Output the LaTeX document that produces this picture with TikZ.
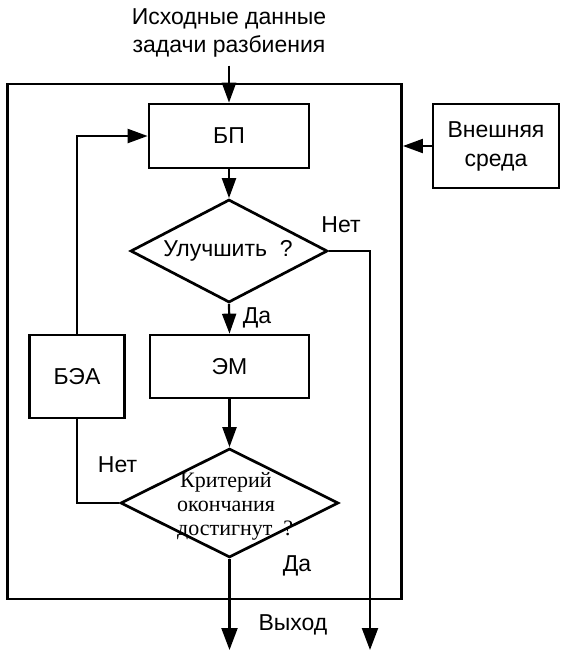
\documentclass[tikz,border=0pt]{standalone}
\usepackage{fontspec}
\setmainfont{Liberation Sans}
\newfontfamily\serifcyr{Liberation Serif}
\usetikzlibrary{arrows.meta,shapes.geometric}
\begin{document}
\begin{tikzpicture}[x=1pt,y=-1pt,
  txt/.style={font=\fontsize{23}{28}\selectfont, inner sep=0pt, align=center},
  blk/.style={draw, line width=2.7pt, inner sep=0pt, font=\fontsize{23}{29}\selectfont, align=center},
  dia/.style={draw, line width=2.7pt, diamond, inner sep=0pt},
  conn/.style={line width=2.2pt},
  arr/.style={conn, -{Triangle[length=20pt,width=14pt]}},
  bigarr/.style={conn, -{Triangle[length=22pt,width=16pt]}},
]
\useasboundingbox (0,0) rectangle (561,651);
\node[draw, line width=2.9pt, minimum width=394pt, minimum height=515pt, inner sep=0pt] (frame) at (204.5,341.5) {};
\node[txt] (src) at (229,33) {Исходные данные\\задачи разбиения};
\node[blk, minimum width=160pt, minimum height=64pt] (bp) at (229,136) {БП};
\node[blk, minimum width=126pt, minimum height=84pt] (ext) at (496,146) {Внешняя\\среда};
\node[dia, minimum width=197pt, minimum height=103pt] (d1) at (229,251) {};
\node[txt] (d1t) at (228,251) {Улучшить\ \ ?};
\node[txt] (no1) at (341,225) {Нет};
\node[txt] (yes1) at (257,318) {Да};
\node[blk, minimum width=159pt, minimum height=63pt] (em) at (229.5,366.5) {ЭМ};
\node[blk, minimum width=95pt, minimum height=83pt] (bea) at (77,376.5) {БЭА};
\node[dia, minimum width=218pt, minimum height=109pt] (d2) at (229.5,503) {};
\node[font=\serifcyr\fontsize{22}{24}\selectfont, align=left, inner sep=0pt, anchor=west] (d2t) at (177,506) {\hspace*{3pt}Критерий\\окончания\\достигнут\ \ ?};
\node[txt] (no2) at (117.5,465) {Нет};
\node[txt] (yes2) at (297,566) {Да};
\node[txt] (outl) at (293,625) {Выход};
\coordinate (out1) at (229.5,650);
\coordinate (out2) at (370,650);
\draw[arr] ([yshift=-8pt]src.south) -- (bp.north);
\draw[arr] (ext.west) -- (ext.west -| frame.east);
\draw[arr] (bp.south) -- (d1.north);
\draw[bigarr] (d1.east) -| (out2);
\draw[arr] (d1.south) -- (em.north);
\draw[arr] (em.south) -- (d2.north);
\draw[bigarr] (d2.south) -- (out1);
\draw[conn] (d2.west) -| (bea.south);
\draw[arr] (bea.north) |- (bp.west);
\end{tikzpicture}
\end{document}
